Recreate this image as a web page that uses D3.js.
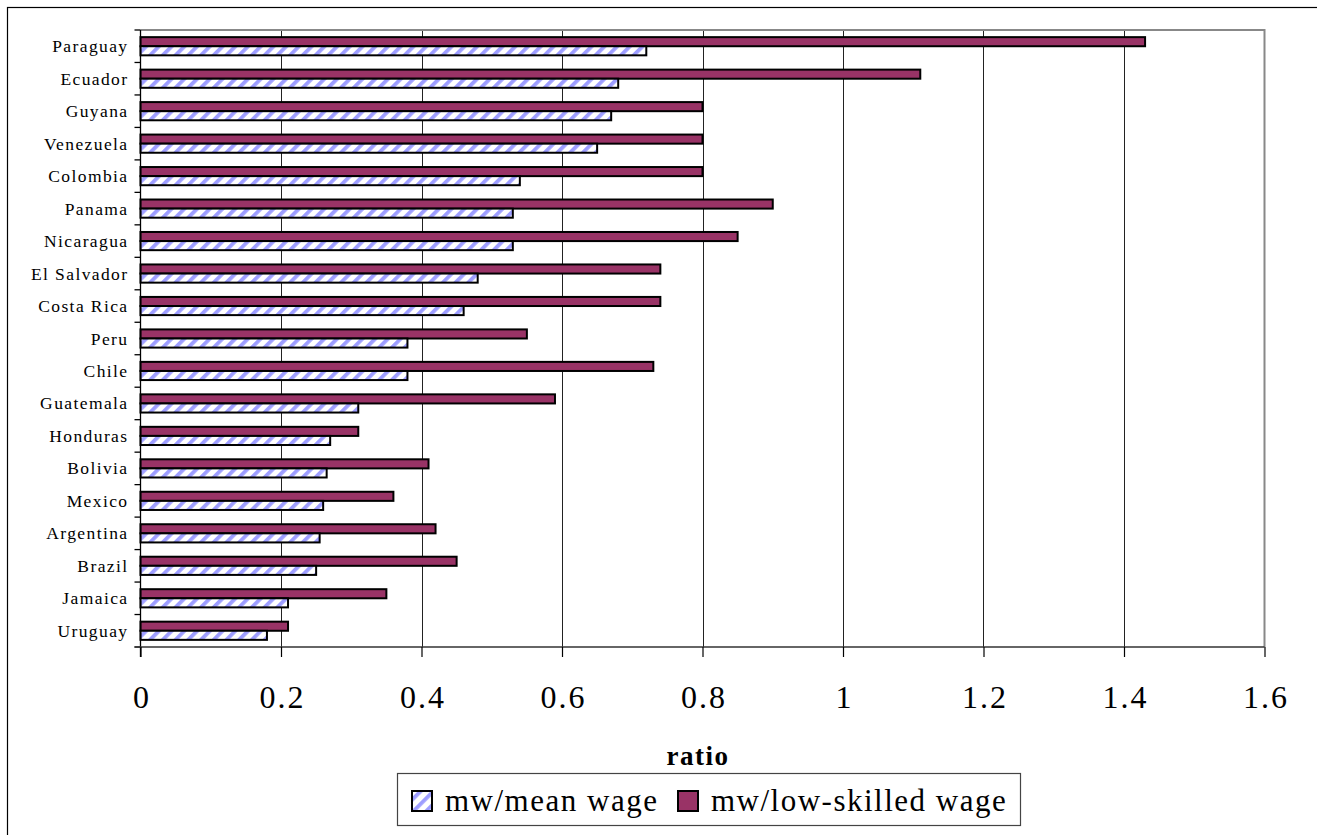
<!DOCTYPE html>
<html>
<head>
<meta charset="utf-8">
<script src="https://cdn.jsdelivr.net/npm/d3@7"></script>
<style>
  html, body { margin: 0; padding: 0; background: #fff; }
  svg { display: block; }
  text { font-family: "Liberation Serif", "Times New Roman", serif; fill: #000; }
</style>
</head>
<body>
<svg id="chart" width="1317" height="835"></svg>
<script>
// Minimum wage ratios by country
const categories = ["Paraguay", "Ecuador", "Guyana", "Venezuela", "Colombia", "Panama",
  "Nicaragua", "El Salvador", "Costa Rica", "Peru", "Chile", "Guatemala", "Honduras",
  "Bolivia", "Mexico", "Argentina", "Brazil", "Jamaica", "Uruguay"];
const meanWageRatio = [0.72, 0.68, 0.67, 0.65, 0.54, 0.53, 0.53, 0.48, 0.46, 0.38, 0.38,
  0.31, 0.27, 0.265, 0.26, 0.255, 0.25, 0.21, 0.18];
const lowSkilledRatio = [1.43, 1.11, 0.80, 0.80, 0.80, 0.90, 0.85, 0.74, 0.74, 0.55, 0.73,
  0.59, 0.31, 0.41, 0.36, 0.42, 0.45, 0.35, 0.21];
const xTicks = [0, 0.2, 0.4, 0.6, 0.8, 1, 1.2, 1.4, 1.6];
const seriesKeys = ["low", "mean"];
const seriesLabels = ["mw/mean wage", "mw/low-skilled wage"];
const axisTitle = "ratio";

const svg = d3.select("#chart");
const plot = { left: 140.5, right: 1264.5, top: 30, bottom: 647 };

const x = d3.scaleLinear().domain([0, 1.6]).range([plot.left, plot.right]);
const y = d3.scaleBand().domain(categories).range([plot.top, plot.bottom])
  .paddingInner(0.44).paddingOuter(0.22);
const ySub = d3.scaleBand().domain(seriesKeys).range([0, y.bandwidth()]);
const step = y.step();

const rows = categories.map((c, i) => ({ name: c, low: lowSkilledRatio[i], mean: meanWageRatio[i] }));

// hatch fill
const defs = svg.append("defs");
const pat = defs.append("pattern")
  .attr("id", "hatch").attr("patternUnits", "userSpaceOnUse")
  .attr("width", 9).attr("height", 9)
  .attr("patternTransform", "rotate(45)");
pat.append("rect").attr("width", 9).attr("height", 9).attr("fill", "#fff");
pat.append("rect").attr("x", 0).attr("width", 3.8).attr("height", 9).attr("fill", "#9d9dff");

// outer frame
svg.append("rect").attr("x", 7.5).attr("y", 7.5).attr("width", 1340).attr("height", 860)
  .attr("fill", "none").attr("stroke", "#000").attr("stroke-width", 1.2);

// vertical gridlines
svg.append("g").selectAll("line").data(xTicks.filter(t => t > 0 && t < 1.6)).join("line")
  .attr("x1", d => Math.round(x(d)) + 0.5).attr("x2", d => Math.round(x(d)) + 0.5)
  .attr("y1", plot.top).attr("y2", plot.bottom)
  .attr("stroke", "#222").attr("stroke-width", 1);

// plot-area border (top and right)
svg.append("path")
  .attr("d", `M${plot.left},${plot.top}H${plot.right}V${plot.bottom}`)
  .attr("fill", "none").attr("stroke", "#888").attr("stroke-width", 2);

// bars
const groups = svg.append("g").selectAll("g").data(rows).join("g")
  .attr("transform", d => `translate(0,${y(d.name)})`);
groups.selectAll("rect").data(d => seriesKeys.map(k => ({ key: k, value: d[k] }))).join("rect")
  .attr("x", x(0))
  .attr("y", d => ySub(d.key))
  .attr("width", d => x(d.value) - x(0))
  .attr("height", ySub.bandwidth())
  .attr("fill", d => d.key === "low" ? "#993366" : "url(#hatch)")
  .attr("stroke", "#000").attr("stroke-width", 2);

// y axis (category ticks at band boundaries)
const yAxisG = svg.append("g");
yAxisG.append("line").attr("x1", plot.left).attr("x2", plot.left)
  .attr("y1", plot.top).attr("y2", plot.bottom + 10)
  .attr("stroke", "#000").attr("stroke-width", 1.3);
yAxisG.selectAll("line.tick").data(d3.range(categories.length + 1)).join("line")
  .attr("class", "tick")
  .attr("x1", plot.left - 6).attr("x2", plot.left)
  .attr("y1", i => plot.top + i * step).attr("y2", i => plot.top + i * step)
  .attr("stroke", "#000").attr("stroke-width", 1.3);
yAxisG.selectAll("text").data(categories).join("text")
  .attr("x", plot.left - 12)
  .attr("y", d => y(d) + y.bandwidth() / 2 + 6)
  .attr("text-anchor", "end")
  .attr("font-size", 17.5)
  .attr("letter-spacing", 1.4)
  .text(d => d);

// x axis
const xAxis = d3.axisBottom(x).tickValues(xTicks).tickSize(10).tickSizeOuter(0)
  .tickFormat(d => String(+d.toFixed(1)));
const xAxisG = svg.append("g").attr("transform", `translate(0,${plot.bottom})`).call(xAxis);
xAxisG.select(".domain").attr("d", `M${plot.left - 6},0H${plot.right}`)
  .attr("stroke", "#333").attr("stroke-width", 1.5);
xAxisG.selectAll(".tick line").attr("stroke", "#000").attr("stroke-width", 1.2);
xAxisG.selectAll(".tick text")
  .attr("y", 0).attr("dy", 0)
  .attr("transform", "translate(1,61)")
  .attr("font-family", "Liberation Serif, Times New Roman, serif")
  .attr("font-size", 32).attr("letter-spacing", 2)
  .attr("fill", "#000");

// axis title
svg.append("text").attr("x", 698).attr("y", 765)
  .attr("text-anchor", "middle").attr("font-size", 27).attr("font-weight", "bold")
  .attr("letter-spacing", 1.5).text(axisTitle);

// legend
const legend = svg.append("g");
legend.append("rect").attr("x", 397.5).attr("y", 773.5).attr("width", 623).attr("height", 52)
  .attr("fill", "#fff").attr("stroke", "#444").attr("stroke-width", 1.2);
const legendItems = [
  { label: seriesLabels[0], fill: "url(#hatch)", sx: 412, tx: 445 },
  { label: seriesLabels[1], fill: "#993366", sx: 678, tx: 711 }
];
legend.selectAll("rect.sw").data(legendItems).join("rect").attr("class", "sw")
  .attr("x", d => d.sx).attr("y", 791).attr("width", 20).attr("height", 20)
  .attr("fill", d => d.fill).attr("stroke", "#000").attr("stroke-width", 2);
legend.selectAll("text").data(legendItems).join("text")
  .attr("x", d => d.tx).attr("y", 811)
  .attr("font-size", 31).attr("letter-spacing", 1.5)
  .text(d => d.label);
</script>
</body>
</html>
